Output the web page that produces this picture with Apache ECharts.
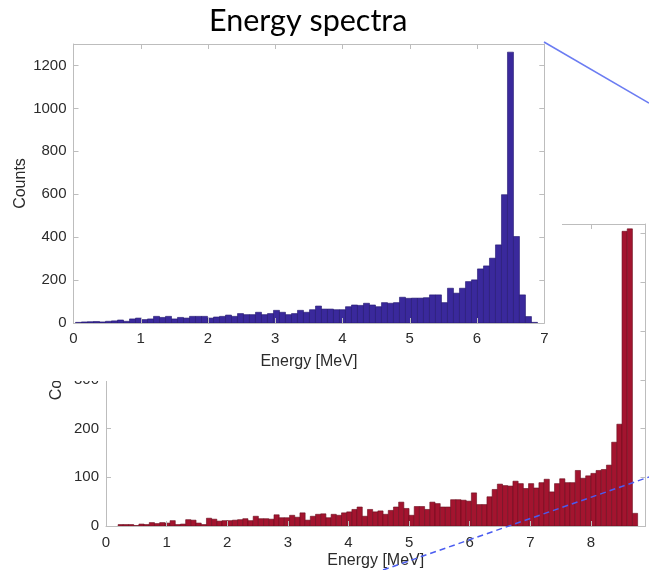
<!DOCTYPE html>
<html>
<head>
<meta charset="utf-8">
<style>
  html, body { margin: 0; padding: 0; background: #fff; }
  #chart { width: 649px; height: 570px; }
</style>
<script src="https://cdn.jsdelivr.net/npm/echarts@6/dist/echarts.min.js"></script>
</head>
<body>
<div id="chart"></div>
<script>
// top spectrum (blue), 77 bins
const topBinStart = 0.03;
const topBinWidth = 0.0892;
const topCounts = [
  3, 5, 6, 7, 5, 8, 10, 14, 8, 19,
  23, 16, 19, 31, 26, 31, 19, 26, 23, 31,
  31, 31, 23, 28, 31, 37, 31, 44, 39, 39,
  50, 39, 44, 59, 50, 39, 44, 59, 50, 62,
  79, 65, 65, 62, 62, 76, 84, 82, 92, 84,
  76, 95, 92, 95, 120, 115, 116, 116, 118, 131,
  131, 95, 162, 139, 162, 193, 201, 252, 266, 302,
  364, 598, 1262, 403, 131, 30, 3
];

// bottom spectrum (red), 100 bins
const bottomBinStart = 0.2;
const bottomBinWidth = 0.0857;
const bottomCounts = [
  3, 3, 3, 1, 4, 3, 7, 5, 7, 6,
  11, 3, 4, 13, 12, 6, 3, 16, 14, 10,
  11, 11, 12, 13, 15, 11, 20, 15, 15, 14,
  23, 17, 17, 22, 18, 27, 12, 20, 24, 25,
  17, 24, 22, 27, 29, 34, 39, 20, 34, 29,
  31, 24, 32, 39, 49, 36, 22, 40, 40, 34,
  49, 46, 39, 39, 54, 54, 53, 51, 68, 44,
  44, 60, 75, 86, 83, 82, 92, 87, 77, 87,
  78, 89, 96, 70, 87, 97, 89, 89, 114, 98,
  103, 108, 114, 116, 125, 172, 209, 605, 610, 26
];

const topXTicks = [0, 7, 1];        // min, max, step
const topYTicks = [0, 1300, 200];
const bottomXTicks = [0, 8.9, 1];
const bottomYTicks = [0, 620, 100];

const axisGray = '#bdbdbd';
const textGray = '#2b2b2b';
const font = 'Liberation Sans';

function toBins(start, width, counts) {
  return counts.map(function (c, i) {
    return [start + i * width, start + (i + 1) * width, c];
  });
}

function histItem(fill, edge) {
  return function (params, api) {
    const p0 = api.coord([api.value(0), api.value(2)]);
    const p1 = api.coord([api.value(1), 0]);
    return {
      type: 'rect',
      shape: { x: p0[0], y: p0[1], width: p1[0] - p0[0], height: p1[1] - p0[1] },
      style: { fill: fill, stroke: edge, lineWidth: 0.6 }
    };
  };
}

function plain(v) { return String(v); }

function mainX(grid, ticks, z, nameGap, labelMargin) {
  return {
    type: 'value', gridIndex: grid, position: 'bottom', z: z,
    min: ticks[0], max: ticks[1], interval: ticks[2],
    name: 'Energy [MeV]', nameLocation: 'middle', nameGap: nameGap, nameMoveOverlap: false,
    nameTextStyle: { fontFamily: font, fontSize: 16, color: textGray },
    axisLine: { onZero: false, lineStyle: { color: axisGray, width: 1 } },
    axisTick: { inside: true, length: 5, lineStyle: { color: axisGray } },
    axisLabel: { fontFamily: font, fontSize: 15, color: textGray, margin: labelMargin,
      formatter: plain, showMaxLabel: ticks[1] % ticks[2] === 0 },
    splitLine: { show: false }
  };
}

function mainY(grid, ticks, z, nameGap) {
  return {
    type: 'value', gridIndex: grid, position: 'left', z: z,
    min: ticks[0], max: ticks[1], interval: ticks[2],
    name: 'Counts', nameLocation: 'middle', nameGap: nameGap, nameMoveOverlap: false,
    nameTextStyle: { fontFamily: font, fontSize: 16, color: textGray },
    axisLine: { show: true, onZero: false, lineStyle: { color: axisGray, width: 1 } },
    axisTick: { show: true, inside: true, length: 5, lineStyle: { color: axisGray } },
    axisLabel: { fontFamily: font, fontSize: 15, color: textGray, margin: 7,
      formatter: plain, showMaxLabel: false },
    splitLine: { show: false }
  };
}

// mirrored frame side (top / right) with inward ticks
function mirror(grid, ticks, pos, z) {
  return {
    type: 'value', gridIndex: grid, position: pos, z: z,
    min: ticks[0], max: ticks[1], interval: ticks[2],
    axisLine: { show: true, onZero: false, lineStyle: { color: axisGray, width: 1 } },
    axisTick: { show: true, inside: true, length: 5, lineStyle: { color: axisGray } },
    axisLabel: { show: false },
    splitLine: { show: false }
  };
}

const chart = echarts.init(document.getElementById('chart'), null, { renderer: 'canvas' });

const option = {
  backgroundColor: '#ffffff',
  animation: false,
  title: {
    text: 'Energy spectra',
    left: 204, top: 1,
    textStyle: { fontFamily: 'Lato', fontSize: 30.5, fontWeight: 'normal', color: '#000' }
  },
  grid: [
    // bottom (red) chart
    { left: 106, top: 224, width: 539.5, height: 302, outerBoundsMode: 'none', containLabel: false },
    // top (blue) chart
    { left: 73.5, top: 44, width: 470.8, height: 279, outerBoundsMode: 'none', containLabel: false }
  ],
  xAxis: [
    mainX(0, bottomXTicks, 2, 27, 9),
    mirror(0, bottomXTicks, 'top', 2),
    mainX(1, topXTicks, 5, 31, 8),
    mirror(1, topXTicks, 'top', 5)
  ],
  yAxis: [
    mainY(0, bottomYTicks, 2, 41),
    mirror(0, bottomYTicks, 'right', 2),
    mainY(1, topYTicks, 5, 45),
    mirror(1, topYTicks, 'right', 5)
  ],
  series: [
    {
      type: 'custom', xAxisIndex: 0, yAxisIndex: 0, z: 1,
      renderItem: histItem('#a3142f', '#6a0b1d'),
      encode: { x: [0, 1], y: 2 },
      data: toBins(bottomBinStart, bottomBinWidth, bottomCounts)
    },
    {
      type: 'custom', xAxisIndex: 2, yAxisIndex: 2, z: 4,
      renderItem: histItem('#3a299c', '#22166f'),
      encode: { x: [0, 1], y: 2 },
      data: toBins(topBinStart, topBinWidth, topCounts)
    }
  ],
  graphic: {
    elements: [
      // the top plot sits on a white panel over the bottom one
      { type: 'rect', z: 3, shape: { x: 0, y: 0, width: 562, height: 381 }, style: { fill: '#ffffff' } },
      // zoom guide lines
      { type: 'line', z: 8, shape: { x1: 544, y1: 42, x2: 649, y2: 103 },
        style: { stroke: '#6b7cf2', lineWidth: 1.5 } },
      { type: 'line', z: 8, shape: { x1: 383, y1: 570, x2: 649, y2: 477 },
        style: { stroke: '#4a5cf0', lineWidth: 1.5, lineDash: [6, 4] } }
    ]
  }
};

chart.setOption(option);
</script>
</body>
</html>
